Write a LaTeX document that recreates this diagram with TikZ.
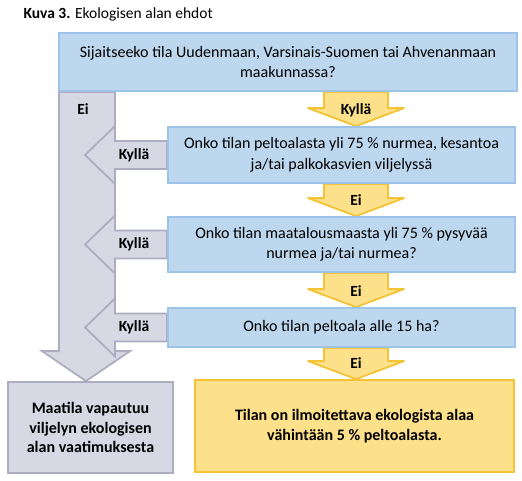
\documentclass[tikz,border=0pt]{standalone}
\usepackage{fontspec}
\setmainfont{Carlito}
\usetikzlibrary{calc,backgrounds}

\definecolor{sininen}{HTML}{BDD7EE}
\definecolor{sininenreuna}{HTML}{9DC3E6}
\definecolor{harmaa}{HTML}{D8D8E4}
\definecolor{harmaareuna}{HTML}{ADADC2}
\definecolor{keltainen}{HTML}{FDE08A}
\definecolor{keltainenreuna}{HTML}{F5C338}

\begin{document}
\begin{tikzpicture}[x=1pt,y=-1pt,
    kysymys/.style={draw=sininenreuna,fill=sininen,line width=1.8pt,align=center,inner sep=0pt,font=\fontsize{16}{20.5}\selectfont},
    harmaanuoli/.style={draw=harmaareuna,fill=harmaa,line width=1.8pt},
    keltanuoli/.style={draw=keltainenreuna,fill=keltainen,line width=1.8pt,line join=round},
    vastaus/.style={font=\bfseries\fontsize{15.5}{18}\selectfont,inner sep=0pt}]
                \useasboundingbox (0,0) rectangle (522,480);
                \node[anchor=base west,font=\fontsize{15.5}{18}\selectfont] (otsikko) at (20,18) {\textbf{Kuva 3.} Ekologisen alan ehdot};
                % kysymykset
                \node[kysymys,minimum width=458pt,minimum height=58pt] (k1) at (288,62) {Sijaitseeko tila Uudenmaan, Varsinais-Suomen tai Ahvenanmaan\\maakunnassa?};
                \node[kysymys,minimum width=347pt,minimum height=56pt] (k2) at (341.5,155) {Onko tilan peltoalasta yli 75 \% nurmea, kesantoa\\ja/tai palkokasvien viljelyssä};
                \node[kysymys,minimum width=347pt,minimum height=55pt] (k3) at (341.5,244.5) {Onko tilan maatalousmaasta yli 75 \% pysyvää\\nurmea ja/tai nurmea?};
                \node[kysymys,minimum width=347pt,minimum height=39pt] (k4) at (341.5,327.5) {Onko tilan peltoala alle 15 ha?};
                % lopputulokset
                \node[kysymys,draw=harmaareuna,fill=harmaa,font=\bfseries\fontsize{16}{19.5}\selectfont,minimum width=165pt,minimum height=91pt] (vapaa) at (90.5,427.5) {Maatila vapautuu\\viljelyn ekologisen\\alan vaatimuksesta};
                \node[kysymys,draw=keltainenreuna,fill=keltainen,font=\bfseries\fontsize{16}{20}\selectfont,minimum width=319pt,minimum height=92pt] (ilmoitus) at (354.5,426) {Tilan on ilmoitettava ekologista alaa\\vähintään 5 \% peltoalasta.};
                \begin{scope}[on background layer]
                    % iso harmaa nuoli
                    \draw[harmaanuoli] let \p1=(k1.south), \p2=(vapaa.north) in
                        (59,\y1) -- (115,\y1) -- (115,\y2+30) -- (130,\y2+30) -- (86,\y2)
                        -- (42,\y2+30) -- (59,\y2+30) -- cycle
                        (83,\y1-17) node[vastaus] (ei0) {Ei};
                    % kyllä-nuolet
                    \foreach \k [count=\i] in {k2,k3,k4}{
                        \draw[harmaanuoli] let \p1=(\k.west) in
                            (\x1,\y1+14) -- (115,\y1+14) -- (115,\y1+29) -- (85,\y1)
                            -- (115,\y1-29) -- (115,\y1-14) -- (\x1,\y1-14) -- cycle
                            (134,\y1) node[vastaus] (kylla\i) {Kyllä};
                    }
                    % keltaiset nuolet
                    \foreach \a/\b/\t [count=\i] in {k1/k2/Kyllä,k2/k3/Ei,k3/k4/Ei,k4/ilmoitus/Ei}{
                        \draw[keltanuoli] let \p1=(\a.south), \p2=(\b.north) in
                            (324,\y1) -- (388,\y1) -- (388,\y2+18) -- (404,\y2+18) -- (356,\y2)
                            -- (308,\y2+18) -- (324,\y2+18) -- cycle
                            (356,\y2+16) node[vastaus] (alas\i) {\t};
                    }
                \end{scope}
\end{tikzpicture}
\end{document}
